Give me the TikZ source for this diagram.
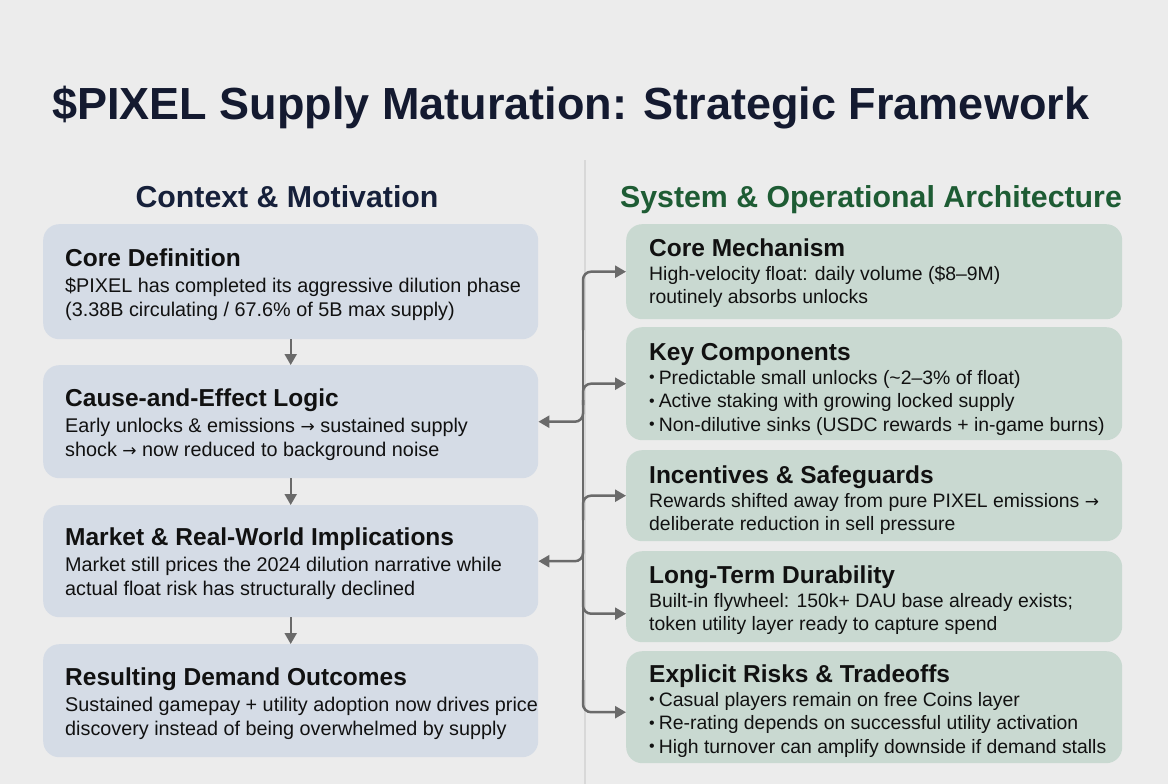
\documentclass[tikz,border=0pt]{standalone}
\usepackage{fontspec}
\setmainfont{Liberation Sans}
\newfontfamily\symfont{DejaVu Sans}
\usetikzlibrary{arrows.meta,calc}
\definecolor{bgc}{HTML}{ECECEC}
\definecolor{navyc}{HTML}{141A30}
\definecolor{navyh}{HTML}{16203A}
\definecolor{greenc}{HTML}{1E5C34}
\definecolor{inkc}{HTML}{111111}
\definecolor{lboxc}{HTML}{D5DCE6}
\definecolor{rboxc}{HTML}{C9D9D1}
\definecolor{wirec}{HTML}{6A6A6A}
\definecolor{divc}{HTML}{D8D8D8}
\newcommand\rarr{{\symfont\fontsize{17}{17}\selectfont →}}
\newcommand\bul{\raisebox{1.2pt}{\fontsize{16}{16}\selectfont •}\hspace{4pt}}
\begin{document}
\begin{tikzpicture}[x=1pt,y=-1pt,
  lbox/.style={fill=lboxc, rounded corners=16pt, minimum width=495pt, anchor=north west, inner sep=0pt, draw=none},
  rbox/.style={fill=rboxc, rounded corners=16pt, minimum width=496pt, anchor=north west, inner sep=0pt, draw=none},
  btitle/.style={font=\bfseries\fontsize{24.5}{28}\selectfont, text=inkc, anchor=base west, inner sep=0pt},
  lbody/.style={font=\fontsize{19.8}{24}\selectfont, text=inkc, anchor=base west, inner sep=0pt},
  rbody/.style={font=\fontsize{19.4}{23.5}\selectfont, text=inkc, anchor=base west, inner sep=0pt},
  wire/.style={draw=wirec, line width=2.5pt, rounded corners=8pt},
  arr/.style={wire, -{Triangle[length=11pt,width=12pt]}},
  hdr/.style={font=\bfseries\fontsize{30.3}{34}\selectfont, anchor=base, inner sep=0pt}
]
\useasboundingbox (0,0) rectangle (1168,784);
\fill[bgc] (0,0) rectangle (1168,784);

% title
\node[font=\bfseries\fontsize{45}{50}\selectfont, text=navyc, anchor=base west, inner sep=0pt] (title) at (52,120) {\$PIXEL Supply Maturation: Strategic Framework};

% column headers
\node[hdr, text=navyh] (hl) at (287,207) {Context \& Motivation};
\node[hdr, text=greenc] (hr) at (871,207) {System \& Operational Architecture};

% divider
\coordinate (dtop) at (585,160);
\coordinate (dbot) at (585,784);
\draw[divc, line width=1.2pt] (dtop) -- (dbot);

% left boxes
\node[lbox, minimum height=115pt] (L1) at (43,224) {};
\node[lbox, minimum height=113pt] (L2) at (43,365) {};
\node[lbox, minimum height=112pt] (L3) at (43,505) {};
\node[lbox, minimum height=113pt] (L4) at (43,644) {};

% right boxes
\node[rbox, minimum height=95pt] (R1) at (626,224) {};
\node[rbox, minimum height=113pt] (R2) at (626,327) {};
\node[rbox, minimum height=91pt] (R3) at (626,450) {};
\node[rbox, minimum height=91pt] (R4) at (626,551) {};
\node[rbox, minimum height=112pt] (R5) at (626,651) {};

% left texts
\node[btitle] (L1t) at (65,266) {Core Definition};
\node[lbody] (L1b) at (65,292) {\begin{tabular}[t]{@{}l@{}}\$PIXEL has completed its aggressive dilution phase\\(3.38B circulating / 67.6\% of 5B max supply)\end{tabular}};

\node[btitle] (L2t) at (65,406) {Cause-and-Effect Logic};
\node[lbody] (L2b) at (65,432) {\begin{tabular}[t]{@{}l@{}}Early unlocks \& emissions \rarr{} sustained supply\\shock \rarr{} now reduced to background noise\end{tabular}};

\node[btitle] (L3t) at (65,545) {Market \& Real-World Implications};
\node[lbody] (L3b) at (65,571) {\begin{tabular}[t]{@{}l@{}}Market still prices the 2024 dilution narrative while\\actual float risk has structurally declined\end{tabular}};

\node[btitle] (L4t) at (65,685) {Resulting Demand Outcomes};
\node[lbody] (L4b) at (65,711) {\begin{tabular}[t]{@{}l@{}}Sustained gamepay + utility adoption now drives price\\discovery instead of being overwhelmed by supply\end{tabular}};

% right texts
\node[btitle] (R1t) at (649,256) {Core Mechanism};
\node[rbody] (R1b) at (649,280) {\begin{tabular}[t]{@{}l@{}}High-velocity float: daily volume (\$8–9M)\\routinely absorbs unlocks\end{tabular}};

\node[btitle] (R2t) at (649,360) {Key Components};
\node[rbody] (R2b) at (649,384) {\begin{tabular}[t]{@{}l@{}}\bul Predictable small unlocks (\textasciitilde2–3\% of float)\\\bul Active staking with growing locked supply\\\bul Non-dilutive sinks (USDC rewards + in-game burns)\end{tabular}};

\node[btitle] (R3t) at (649,483) {Incentives \& Safeguards};
\node[rbody] (R3b) at (649,507) {\begin{tabular}[t]{@{}l@{}}Rewards shifted away from pure PIXEL emissions \rarr\\deliberate reduction in sell pressure\end{tabular}};

\node[btitle] (R4t) at (649,583) {Long-Term Durability};
\node[rbody] (R4b) at (649,607) {\begin{tabular}[t]{@{}l@{}}Built-in flywheel: 150k+ DAU base already exists;\\token utility layer ready to capture spend\end{tabular}};

\node[btitle] (R5t) at (649,682) {Explicit Risks \& Tradeoffs};
\node[rbody] (R5b) at (649,706) {\begin{tabular}[t]{@{}l@{}}\bul Casual players remain on free Coins layer\\\bul Re-rating depends on successful utility activation\\\bul High turnover can amplify downside if demand stalls\end{tabular}};

% vertical flow on the left
\draw[arr, line width=2.2pt] (L1.south) -- (L2.north);
\draw[arr, line width=2.2pt] (L2.south) -- (L3.north);
\draw[arr, line width=2.2pt] (L3.south) -- (L4.north);

% bus connectors
\coordinate (bt) at (583,279);
\coordinate (bb) at (583,704);
\coordinate (j1) at (583,330);
\coordinate (j2) at (583,405);
\coordinate (j3) at (583,400);
\coordinate (j4) at (583,520);
\coordinate (j5) at (583,540);
\coordinate (j6) at (583,590);
\coordinate (j7) at (583,680);
\draw[wire] (bt) -- (bb);
\draw[arr] (j1) |- (R1.west);
\draw[arr] (j2) |- (R2.west);
\draw[arr] (j3) |- (L2.east);
\draw[arr] (j4) |- (R3.west);
\draw[arr] (j5) |- (L3.east);
\draw[arr] (j6) |- ([yshift=-17pt]R4.west);
\draw[arr] (j7) |- ([yshift=-5pt]R5.west);
\end{tikzpicture}
\end{document}
